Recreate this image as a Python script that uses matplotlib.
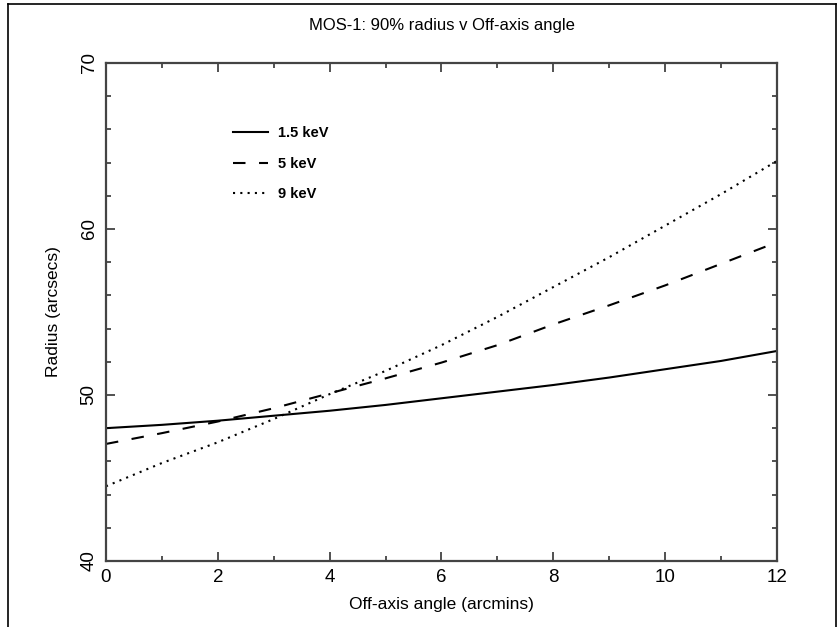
import numpy as np
import matplotlib.pyplot as plt
from matplotlib.lines import Line2D
from matplotlib.ticker import MultipleLocator

# off-axis angle (arcmin) and 90% radius (arcsec)
angle = [0, 1, 2, 3, 4, 5, 6, 7, 8, 9, 10, 11, 12]
r_1p5 = [48.0, 48.2, 48.45, 48.75, 49.05, 49.4, 49.8, 50.2, 50.6, 51.05, 51.55, 52.05, 52.65]
r_5 = [47.05, 47.7, 48.4, 49.2, 50.1, 51.0, 51.95, 53.0, 54.25, 55.4, 56.6, 57.9, 59.2]
r_9 = [44.5, 45.9, 47.15, 48.55, 50.05, 51.45, 53.0, 54.7, 56.5, 58.3, 60.2, 62.1, 64.1]
labels = ["1.5 keV", "5 keV", "9 keV"]

plt.rcParams["font.family"] = ["Liberation Sans", "DejaVu Sans"]
fig = plt.figure(figsize=(8.39, 6.27), dpi=100)
ax = fig.add_axes([0.1263, 0.1053, 0.7998, 0.7943])

lw = 1.5
ax.plot(angle, r_1p5, c="k", lw=lw, label=labels[0])
ax.plot(angle, r_5, c="k", lw=lw, dashes=(6, 6.5), label=labels[1])
ax.plot(angle, r_9, c="k", lw=lw, dashes=(1, 2.5), label=labels[2])

ax.set_xlim(0, 12)
ax.set_ylim(40, 70)
ax.xaxis.set_major_locator(MultipleLocator(2))
ax.xaxis.set_minor_locator(MultipleLocator(1))
ax.yaxis.set_major_locator(MultipleLocator(10))
ax.yaxis.set_minor_locator(MultipleLocator(2))
ax.tick_params(which="both", direction="in", top=True, right=True, color="#333333")
ax.tick_params(which="major", length=6.5, width=1.2, labelsize=13.5, pad=6)
ax.tick_params(which="minor", length=3.5, width=1.2)
for t in ax.get_yticklabels():
    t.set_rotation(90)
    t.set_va("center")
for s in ax.spines.values():
    s.set_linewidth(1.6)
    s.set_color("#444444")

ax.set_xlabel("Off-axis angle (arcmins)", fontsize=12.5, labelpad=8)
ax.set_ylabel("Radius (arcsecs)", fontsize=12.5, labelpad=14)
ax.set_title("MOS-1: 90% radius v Off-axis angle", fontsize=12, pad=24)

leg = ax.legend(loc="upper left", bbox_to_anchor=(0.17, 0.9), frameon=False,
                handlelength=2.4, handletextpad=0.7, labelspacing=1.15,
                prop={"size": 10.5, "weight": "bold"})

# outer frame
fig.add_artist(Line2D([0.0095, 0.0095], [0, 0.994], color="k", lw=1.2, transform=fig.transFigure))
fig.add_artist(Line2D([0.9965, 0.9965], [0, 0.994], color="k", lw=1.2, transform=fig.transFigure))
fig.add_artist(Line2D([0.0095, 0.9965], [0.994, 0.994], color="k", lw=1.2, transform=fig.transFigure))

fig.savefig("out.png", dpi=100)
